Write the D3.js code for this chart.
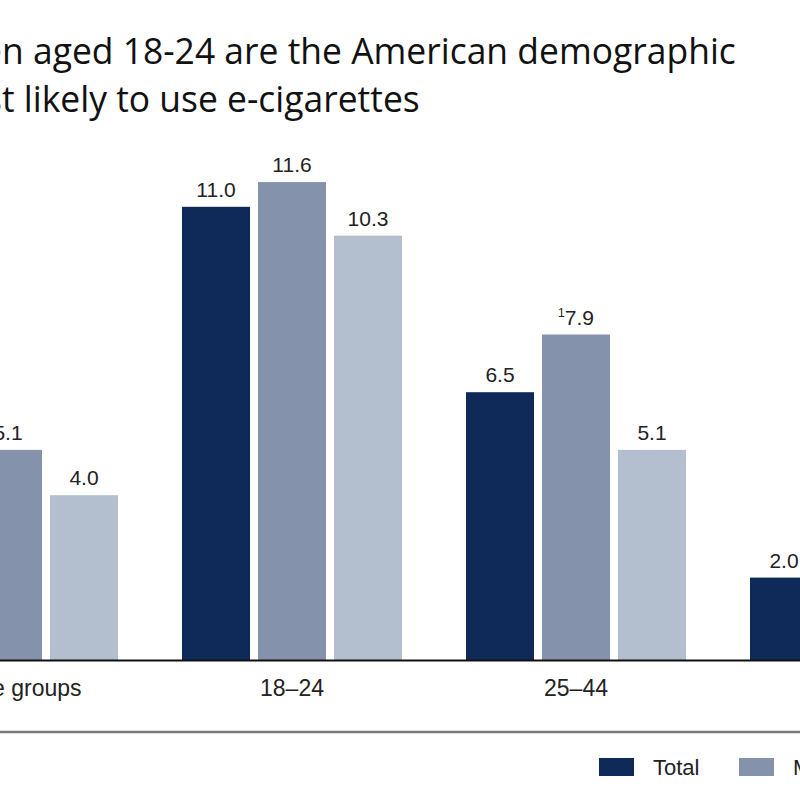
<!DOCTYPE html>
<html>
<head>
<meta charset="utf-8">
<script src="https://cdn.jsdelivr.net/npm/d3@7"></script>
<style>
  body { margin: 0; background: #fff; }
</style>
</head>
<body>
<div id="chart"></div>
<script>
// data (off-screen bars are estimates)
var titleLines = ["Men aged 18-24 are the American demographic", "most likely to use e-cigarettes"];
var titleCut = ["Me", "mos"]; // part of each title line that falls left of the window
var categories = ["All age groups", "18\u201324", "25\u201344", "45\u201364", "65 and over"];
var seriesNames = ["Total", "Men", "Women"];
var totalValues = [4.5, 11.0, 6.5, 2.0, 0.9];
var menValues = [5.1, 11.6, 7.9, 2.3, 1.1];
var womenValues = [4.0, 10.3, 5.1, 1.7, 0.7];
var menNotes = ["", "", "1", "", ""];
var seriesColors = ["#0f2a58", "#8493ab", "#b3bfcf"];

function init() {
  var w = 800;
  var h = 800;
  var baseY = 660;

  var svg = d3.select("#chart")
      .append("svg")
      .attr("width", w)
      .attr("height", h)
      .style("font-family", "'Liberation Sans', Arial, sans-serif");

  svg.append("rect").attr("width", w).attr("height", h).attr("fill", "#fff");

  // build rows: one per category
  var rows = categories.map(function(c, i) {
    return {
      cat: c,
      vals: [
        { s: "Total", v: totalValues[i], note: "" },
        { s: "Men", v: menValues[i], note: menNotes[i] },
        { s: "Women", v: womenValues[i], note: "" }
      ]
    };
  });

  // chart is wider than the window, left part is cut off
  var x0 = d3.scaleBand()
      .domain(categories)
      .range([-102, 1254])
      .paddingInner(64 / 284)
      .paddingOuter(0);

  var x1 = d3.scaleBand()
      .domain(seriesNames)
      .range([0, x0.bandwidth()])
      .paddingInner(8 / 76)
      .paddingOuter(0);

  var y = d3.scaleLinear()
      .domain([0, 12])
      .range([baseY, baseY - 494.4]);

  var color = d3.scaleOrdinal().domain(seriesNames).range(seriesColors);

  // title
  var tfs = 36;
  var title = svg.append("g");
  var probe = title.append("text")
      .style("font-family", "'Open Sans', sans-serif")
      .attr("font-size", tfs)
      .text("n aged 18-24 are the American demographic");
  var sx = 734 / probe.node().getComputedTextLength();
  var cutW = titleCut.map(function(s) {
    probe.text(s);
    return probe.node().getComputedTextLength();
  });
  probe.remove();

  title.attr("transform", "translate(2,0) scale(" + sx + ",1)");
  title.selectAll("text.ttl")
      .data(titleLines)
      .enter()
      .append("text")
      .attr("class", "ttl")
      .style("font-family", "'Open Sans', sans-serif")
      .attr("font-size", tfs)
      .attr("fill", "#111")
      .attr("x", function(d, i) { return -cutW[i]; })
      .attr("y", function(d, i) { return 64 + i * 48; })
      .text(function(d) { return d; });

  // bars
  var groups = svg.selectAll("g.grp")
      .data(rows)
      .enter()
      .append("g")
      .attr("class", "grp")
      .attr("transform", function(d) { return "translate(" + x0(d.cat) + ",0)"; });

  groups.selectAll("rect")
      .data(function(d) { return d.vals; })
      .enter()
      .append("rect")
      .attr("x", function(d) { return x1(d.s); })
      .attr("y", function(d) { return y(d.v); })
      .attr("width", x1.bandwidth())
      .attr("height", function(d) { return baseY - y(d.v); })
      .attr("fill", function(d) { return color(d.s); });

  // value labels
  var lab = groups.selectAll("text.val")
      .data(function(d) { return d.vals; })
      .enter()
      .append("text")
      .attr("class", "val")
      .attr("x", function(d) { return x1(d.s) + x1.bandwidth() / 2; })
      .attr("y", function(d) { return y(d.v) - 10; })
      .attr("text-anchor", "middle")
      .attr("font-size", 21)
      .attr("fill", "#222");
  lab.append("tspan")
      .attr("font-size", 12)
      .attr("dy", -8)
      .text(function(d) { return d.note; });
  lab.append("tspan")
      .attr("dy", function(d) { return d.note ? 8 : 0; })
      .text(function(d) { return d.v.toFixed(1); });

  // x axis
  var xAxis = svg.append("g")
      .attr("transform", "translate(0," + baseY + ")")
      .call(d3.axisBottom(x0).tickSize(0).tickPadding(20));
  xAxis.select(".domain")
      .attr("stroke", "#111")
      .attr("stroke-width", 2);
  xAxis.selectAll("text")
      .attr("font-size", 23)
      .attr("fill", "#222")
      .style("font-family", "'Liberation Sans', Arial, sans-serif");

  // separator line above legend
  svg.append("line")
      .attr("x1", 0)
      .attr("x2", w)
      .attr("y1", 732)
      .attr("y2", 732)
      .attr("stroke", "#7a7a7a")
      .attr("stroke-width", 2.5);

  // legend
  var legend = svg.selectAll("g.leg")
      .data(seriesNames)
      .enter()
      .append("g")
      .attr("class", "leg")
      .attr("transform", function(d, i) { return "translate(" + (599 + i * 140) + ",758)"; });
  legend.append("rect")
      .attr("width", 35)
      .attr("height", 18)
      .attr("fill", function(d) { return color(d); });
  legend.append("text")
      .attr("x", 54)
      .attr("y", 17)
      .attr("font-size", 22)
      .attr("fill", "#222")
      .text(function(d) { return d; });
}

window.onload = init;
</script>
</body>
</html>
